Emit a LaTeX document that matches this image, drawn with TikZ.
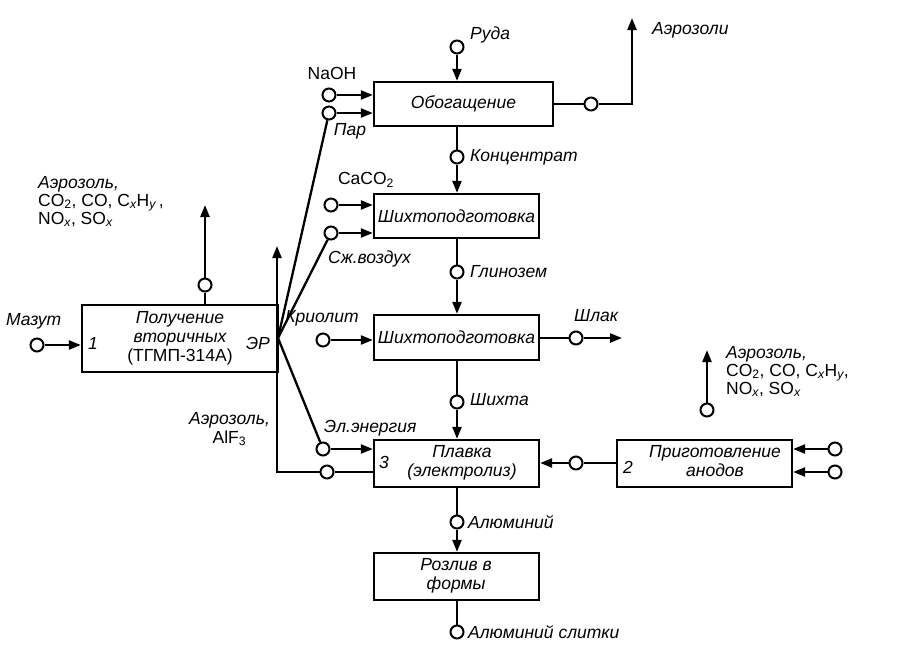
\documentclass[tikz,border=0pt]{standalone}
\usepackage{fontspec}
\setmainfont{Liberation Sans}
\usetikzlibrary{arrows.meta}
\begin{document}
\begin{tikzpicture}[x=1pt,y=-1pt,line width=2.3pt,
  every node/.style={font=\fontsize{17.5}{19}\selectfont\itshape},
  box/.style={draw,rectangle,inner sep=0pt,align=center},
  c/.style={draw,circle,fill=white,minimum size=13pt,inner sep=0pt,line width=2pt},
  lab/.style={inner sep=1pt},
  ar/.style={-{Triangle[length=12pt,width=9pt]}}]
\useasboundingbox (0,0) rectangle (910,664);
% boxes
\node[box,minimum width=179pt,minimum height=44pt] (ob) at (463.5,104) {Обогащение};
\node[box,minimum width=165pt,minimum height=44pt] (s1) at (456.5,216) {Шихтоподготовка};
\node[box,minimum width=165pt,minimum height=45pt] (s2) at (456.5,337.5) {Шихтоподготовка};
\node[box,minimum width=196pt,minimum height=67pt,align=center] (pol) at (180,338.5) {};
\node at (180,338.5) {\begin{tabular}{c}Получение\\вторичных\\\upshape(ТГМП-314А)\end{tabular}};
\node (n1) at (93,343) {1};
\node (er) at (258,343) {ЭР};
\node[box,minimum width=165pt,minimum height=47pt] (pl) at (456.5,463.5) {};
\node at (462,463) {\begin{tabular}{c}Плавка\\(электролиз)\end{tabular}};
\node (n3) at (384,462) {3};
\node[box,minimum width=175pt,minimum height=47pt] (an) at (704.5,463.5) {};
\node at (715,463) {\begin{tabular}{c}Приготовление\\анодов\end{tabular}};
\node (n2) at (628,467) {2};
\node[box,minimum width=165pt,minimum height=47pt] (rz) at (456.5,576.5) {};
\node at (456,576) {\begin{tabular}{c}Розлив в\\формы\end{tabular}};
% main vertical chain
\node[c] (cr) at (457,47) {};
\node[lab,anchor=west] at (468,35) {Руда};
\draw[ar] (cr) -- (cr |- ob.north);
\node[c] (ck) at (457,157) {};
\node[lab,anchor=west] at (468,157) {Концентрат};
\draw (ck |- ob.south) -- (ck); \draw[ar] (ck) -- (ck |- s1.north);
\node[c] (cg) at (457,272) {};
\node[lab,anchor=west] at (468,272) {Глинозем};
\draw (cg |- s1.south) -- (cg); \draw[ar] (cg) -- (cg |- s2.north);
\node[c] (csh) at (457,402) {};
\node[lab,anchor=west] at (468,400) {Шихта};
\draw (csh |- s2.south) -- (csh); \draw[ar] (csh) -- (csh |- pl.north);
\node[c] (cal) at (457,522) {};
\node[lab,anchor=west] at (466,522) {Алюминий};
\draw (cal |- pl.south) -- (cal); \draw[ar] (cal) -- (cal |- rz.north);
\node[c] (cs) at (457,632) {};
\node[lab,anchor=west] at (466,632) {Алюминий слитки};
\draw (cs |- rz.south) -- (cs);
% Обогащение inputs
\node[c] (cna) at (329,95) {};
\node[lab] at (332,73) {\upshape NaOH};
\draw[ar] (cna) -- (cna -| ob.west);
\node[c] (cpar) at (329,113) {};
\node[lab] at (350,131) {Пар};
\draw[ar] (cpar) -- (cpar -| ob.west);
% aerosols top
\node[c] (cae) at (591,104) {};
\draw (ob.east |- cae) -- (cae);
\coordinate (ae1) at (632,104);
\coordinate (ae2) at (632,18);
\draw[ar] (cae) -- (ae1) -- (ae2);
\node[lab,anchor=west] at (650,30) {Аэрозоли};
% Шихтоподготовка 1 inputs
\node[c] (cca) at (331,205) {};
\node[lab] at (366,180) {\upshape CaCO\textsubscript{2}};
\draw[ar] (cca) -- (cca -| s1.west);
\node[c] (csz) at (331,233) {};
\node[lab,anchor=west] at (326,259) {Сж.воздух};
\draw[ar] (csz) -- (csz -| s1.west);
% Шихтоподготовка 2
\node[c] (ckr) at (323,340) {};
\node[lab] at (322,318) {Криолит};
\draw[ar] (ckr) -- (ckr -| s2.west);
\node[c] (csl) at (576,338) {};
\node[lab,anchor=west] at (572,316) {Шлак};
\coordinate (sl) at (622,338);
\draw (s2.east |- csl) -- (csl); \draw[ar] (csl) -- (sl);
% Получение
\node[c] (cm) at (37,345) {};
\node[lab,anchor=west] at (4,321) {Мазут};
\draw[ar] (cm) -- (cm -| pol.west);
\node[c] (cpu) at (205,285) {};
\coordinate (pu) at (205,205);
\draw (pol.north -| cpu) -- (cpu); \draw[ar] (cpu) -- (pu);
\node[lab,anchor=north west,align=left,font=\fontsize{17.5}{18}\selectfont] at (36,174) {\itshape Аэрозоль,\\CO\textsubscript{2}, CO, C\textsubscript{\itshape x}H\textsubscript{\itshape y}\,,\\NO\textsubscript{\itshape x}, SO\textsubscript{\itshape x}};
% Плавка
\coordinate (erp) at (278,338);
\node[c] (cee) at (323,449) {};
\node[lab,anchor=west] at (322,428) {Эл.энергия};
\draw (erp) -- (cpar); \draw (erp) -- (csz); \draw (erp) -- (cee);
\draw[ar] (cee) -- (cee -| pl.west);
\node[c] (caf) at (327,472) {};
\coordinate (af1) at (277,472);
\coordinate (af2) at (277,246);
\draw (pl.west |- caf) -- (caf);
\draw[ar] (caf) -- (af1) -- (af2);
\node[lab,anchor=north east,align=center] at (272,410) {Аэрозоль,\\\upshape AlF\textsubscript{3}};
% anodes
\node[c] (can) at (576,463) {};
\draw (an.west |- can) -- (can); \draw[ar] (can) -- (can -| pl.east);
\node[c] (cr1) at (835,449) {};
\node[c] (cr2) at (835,472) {};
\draw[ar] (cr1) -- (cr1 -| an.east);
\draw[ar] (cr2) -- (cr2 -| an.east);
\node[c] (cau) at (707,410) {};
\coordinate (au) at (707,350);
\draw[ar] (cau) -- (au);
\node[lab,anchor=north west,align=left,font=\fontsize{17.5}{18}\selectfont] at (724,344) {\itshape Аэрозоль,\\CO\textsubscript{2}, CO, C\textsubscript{\itshape x}H\textsubscript{\itshape y},\\NO\textsubscript{\itshape x}, SO\textsubscript{\itshape x}};
\end{tikzpicture}
\end{document}
